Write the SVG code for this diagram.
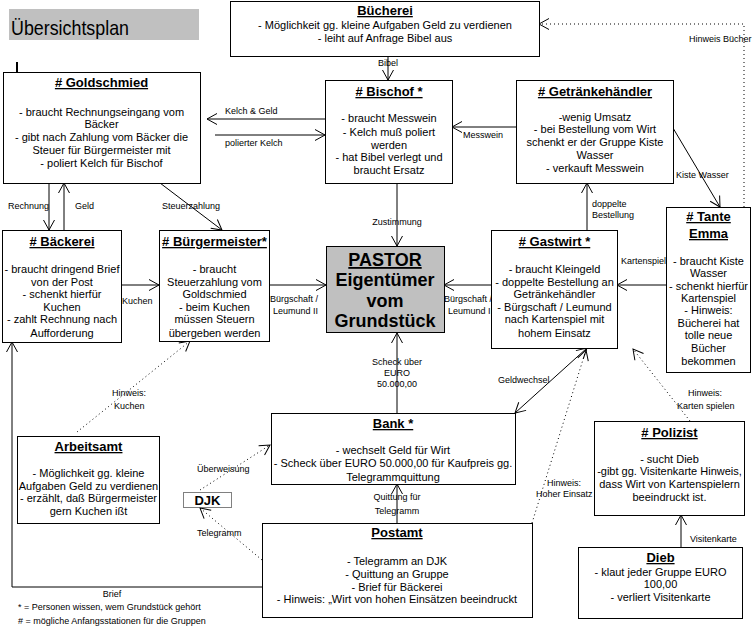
<svg xmlns="http://www.w3.org/2000/svg" width="754" height="628" viewBox="0 0 754 628">
<style>
text{font-family:"Liberation Sans",Arial,sans-serif;fill:#000}
.b{font-size:11px;text-anchor:middle}
.t{font-size:13px;font-weight:bold;text-anchor:middle;text-decoration:underline}
.l{font-size:9px}
.lc{font-size:9px;text-anchor:middle}
.box{fill:#fff;stroke:#000;stroke-width:1}
.c{fill:none;stroke:#000;stroke-width:1}
.d{fill:none;stroke:#000;stroke-width:1;stroke-dasharray:1 3}
</style>
<defs>
<marker id="a" viewBox="-12 -7 14 14" refX="0" refY="0" markerWidth="14" markerHeight="14" markerUnits="userSpaceOnUse" orient="auto-start-reverse">
<path d="M-10,-5.5 L0,0 L-10,5.5" fill="none" stroke="#000" stroke-width="1"/>
</marker>
</defs>
<rect width="754" height="628" fill="#fff"/>

<g id="title">
<rect x="9" y="9" width="190" height="31" fill="#c0c0c0"/>
<text x="11" y="35" font-family="'DejaVu Sans Condensed','DejaVu Sans',sans-serif" font-size="21" textLength="118" lengthAdjust="spacingAndGlyphs">Übersichtsplan</text>
</g>
<line x1="17" y1="62" x2="17" y2="77" stroke="#000" stroke-width="2"/>

<g id="connectors">
<line class="c" x1="388" y1="56" x2="388" y2="80" marker-end="url(#a)"/>
<line class="c" x1="325" y1="119" x2="207" y2="119" marker-end="url(#a)"/>
<line class="c" x1="215" y1="135" x2="325" y2="135" marker-end="url(#a)"/>
<line class="c" x1="516" y1="127" x2="452" y2="127" marker-end="url(#a)"/>
<polyline class="d" points="744,207 744,24 539,24" marker-end="url(#a)"/>
<line class="c" x1="673" y1="128" x2="720" y2="207" marker-end="url(#a)"/>
<line class="c" x1="587" y1="230" x2="587" y2="183" marker-end="url(#a)"/>
<line class="c" x1="49" y1="183" x2="49" y2="230" marker-end="url(#a)"/>
<line class="c" x1="64" y1="230" x2="64" y2="183" marker-end="url(#a)"/>
<line class="c" x1="160" y1="183" x2="222" y2="230" marker-end="url(#a)"/>
<line class="c" x1="121" y1="285" x2="159" y2="285" marker-end="url(#a)"/>
<line class="c" x1="269" y1="285" x2="326" y2="285" marker-end="url(#a)"/>
<line class="c" x1="491" y1="285" x2="444" y2="285" marker-end="url(#a)"/>
<line class="c" x1="666" y1="285" x2="617" y2="285" marker-end="url(#a)"/>
<line class="c" x1="397" y1="183" x2="397" y2="246" marker-end="url(#a)"/>
<line class="c" x1="397" y1="413" x2="397" y2="333" marker-end="url(#a)"/>
<line class="c" x1="515" y1="413" x2="587" y2="348" marker-start="url(#a)" marker-end="url(#a)"/>
<line class="d" x1="532" y1="523" x2="586" y2="350" marker-end="url(#a)"/>
<line class="d" x1="690" y1="421" x2="633" y2="349" marker-end="url(#a)"/>
<line class="c" x1="681" y1="547" x2="681" y2="515" marker-end="url(#a)"/>
<line class="d" x1="77" y1="432" x2="190" y2="341" marker-end="url(#a)"/>
<line class="d" x1="200" y1="490" x2="270" y2="445" marker-end="url(#a)"/>
<line class="d" x1="262" y1="560" x2="200" y2="508" marker-end="url(#a)"/>
<line class="c" x1="397" y1="523" x2="397" y2="484" marker-end="url(#a)"/>
<polyline class="c" points="262,587 12,587 12,342" marker-end="url(#a)"/>

<text class="lc" x="388" y="66">Bibel</text>
<text class="l" x="225" y="114">Kelch &amp; Geld</text>
<text class="l" x="225" y="146">polierter Kelch</text>
<text class="l" x="463" y="138">Messwein</text>
<text class="l" x="689" y="42">Hinweis Bücher</text>
<text class="l" x="676" y="178">Kiste Wasser</text>
<text class="l" x="592" y="207">doppelte</text>
<text class="l" x="592" y="218">Bestellung</text>
<text class="l" x="8" y="209">Rechnung</text>
<text class="l" x="75" y="209">Geld</text>
<text class="l" x="162" y="209">Steuerzahlung</text>
<text class="l" x="122" y="304">Kuchen</text>
<text class="l" x="270" y="302">Bürgschaft /</text>
<text class="l" x="273" y="314">Leumund II</text>
<text class="l" x="444" y="302">Bürgschaft /</text>
<text class="l" x="448" y="314">Leumund I</text>
<text class="lc" x="397" y="225">Zustimmung</text>
<text class="l" x="621" y="264">Kartenspiel</text>
<text class="lc" x="397" y="365">Scheck über</text>
<text class="lc" x="397" y="376">EURO</text>
<text class="lc" x="397" y="387">50.000,00</text>
<text class="l" x="498" y="383">Geldwechsel</text>
<text class="l" x="547" y="486">Hinweis:</text>
<text class="l" x="536" y="497">Hoher Einsatz</text>
<text class="l" x="688" y="396">Hinweis:</text>
<text class="l" x="677" y="409">Karten spielen</text>
<text class="l" x="690" y="542">Visitenkarte</text>
<text class="l" x="112" y="396">Hinweis:</text>
<text class="l" x="114" y="409">Kuchen</text>
<text class="l" x="197" y="472">Überweisung</text>
<text class="l" x="197" y="536">Telegramm</text>
<text class="lc" x="397" y="500">Quittung für</text>
<text class="lc" x="397" y="514">Telegramm</text>
<text class="lc" x="112" y="597">Brief</text>
</g>

<g id="buecherei">
<rect class="box" x="230.5" y="1.5" width="309" height="55"/>
<text class="t" x="385" y="15">Bücherei</text>
<text class="b" x="385" y="28.5">- Möglichkeit gg. kleine Aufgaben Geld zu verdienen</text>
<text class="b" x="385" y="42">- leiht auf Anfrage Bibel aus</text>
</g>

<g id="goldschmied">
<rect class="box" x="3.5" y="72.5" width="197" height="111"/>
<text class="t" x="101.5" y="87"># Goldschmied</text>
<text class="b" x="101.5" y="116">- braucht Rechnungseingang vom</text>
<text class="b" x="101.5" y="128">Bäcker</text>
<text class="b" x="101.5" y="141">- gibt nach Zahlung vom Bäcker die</text>
<text class="b" x="101.5" y="154">Steuer für Bürgermeister mit</text>
<text class="b" x="101.5" y="167">- poliert Kelch für Bischof</text>
</g>

<g id="bischof">
<rect class="box" x="325.5" y="80.5" width="127" height="103"/>
<text class="t" x="389" y="96"># Bischof *</text>
<text class="b" x="389" y="122">- braucht Messwein</text>
<text class="b" x="389" y="136">- Kelch muß poliert</text>
<text class="b" x="389" y="149">werden</text>
<text class="b" x="389" y="161">- hat Bibel verlegt und</text>
<text class="b" x="389" y="174">braucht Ersatz</text>
</g>

<g id="getraenkehaendler">
<rect class="box" x="516.5" y="80.5" width="157" height="103"/>
<text class="t" x="595" y="96"># Getränkehändler</text>
<text class="b" x="595" y="121">-wenig Umsatz</text>
<text class="b" x="595" y="133">- bei Bestellung vom Wirt</text>
<text class="b" x="595" y="146">schenkt er der Gruppe Kiste</text>
<text class="b" x="595" y="159">Wasser</text>
<text class="b" x="595" y="172">- verkauft Messwein</text>
</g>

<g id="baeckerei">
<rect class="box" x="2.5" y="230.5" width="119" height="112"/>
<text class="t" x="62" y="246"># Bäckerei</text>
<text class="b" x="62" y="273">- braucht dringend Brief</text>
<text class="b" x="62" y="286">von der Post</text>
<text class="b" x="62" y="298">- schenkt hierfür</text>
<text class="b" x="62" y="311">Kuchen</text>
<text class="b" x="62" y="323">- zahlt Rechnung nach</text>
<text class="b" x="62" y="337">Aufforderung</text>
</g>

<g id="buergermeister">
<rect class="box" x="159.5" y="230.5" width="110" height="111"/>
<text class="t" x="214.5" y="246"># Bürgermeister*</text>
<text class="b" x="214.5" y="273">- braucht</text>
<text class="b" x="214.5" y="286">Steuerzahlung vom</text>
<text class="b" x="214.5" y="298">Goldschmied</text>
<text class="b" x="214.5" y="311">- beim Kuchen</text>
<text class="b" x="214.5" y="323">müssen Steuern</text>
<text class="b" x="214.5" y="337">übergeben werden</text>
</g>

<g id="pastor">
<rect x="326.5" y="246.5" width="118" height="86" fill="#c0c0c0" stroke="#000"/>
<g font-size="18" font-weight="bold" text-anchor="middle">
<text x="385" y="266" text-decoration="underline">PASTOR</text>
<text x="385" y="286">Eigentümer</text>
<text x="385" y="307">vom</text>
<text x="385" y="327">Grundstück</text>
</g>
</g>

<g id="gastwirt">
<rect class="box" x="491.5" y="230.5" width="126" height="118"/>
<text class="t" x="554.5" y="246"># Gastwirt *</text>
<text class="b" x="554.5" y="273">- braucht Kleingeld</text>
<text class="b" x="554.5" y="286">- doppelte Bestellung an</text>
<text class="b" x="554.5" y="298">Getränkehändler</text>
<text class="b" x="554.5" y="311">- Bürgschaft / Leumund</text>
<text class="b" x="554.5" y="323">nach Kartenspiel mit</text>
<text class="b" x="554.5" y="337">hohem Einsatz</text>
</g>

<g id="tante-emma">
<rect class="box" x="666.5" y="207.5" width="84" height="165"/>
<text class="t" x="708.5" y="221"># Tante</text>
<text class="t" x="708.5" y="238">Emma</text>
<text class="b" x="708.5" y="265">- braucht Kiste</text>
<text class="b" x="708.5" y="277">Wasser</text>
<text class="b" x="708.5" y="290">- schenkt hierfür</text>
<text class="b" x="708.5" y="302">Kartenspiel</text>
<text class="b" x="708.5" y="314">- Hinweis:</text>
<text class="b" x="708.5" y="327">Bücherei hat</text>
<text class="b" x="708.5" y="339">tolle neue</text>
<text class="b" x="708.5" y="352">Bücher</text>
<text class="b" x="708.5" y="365">bekommen</text>
</g>

<g id="bank">
<rect class="box" x="271.5" y="413.5" width="244" height="71"/>
<text class="t" x="393" y="428">Bank *</text>
<text class="b" x="393" y="454">- wechselt Geld für Wirt</text>
<text class="b" x="393" y="467">- Scheck über EURO 50.000,00 für Kaufpreis gg.</text>
<text class="b" x="393" y="481">Telegrammquittung</text>
</g>

<g id="arbeitsamt">
<rect class="box" x="17.5" y="436.5" width="142" height="87"/>
<text class="t" x="88.5" y="451">Arbeitsamt</text>
<text class="b" x="88.5" y="477">- Möglichkeit gg. kleine</text>
<text class="b" x="88.5" y="490">Aufgaben Geld zu verdienen</text>
<text class="b" x="88.5" y="502">- erzählt, daß Bürgermeister</text>
<text class="b" x="88.5" y="515">gern Kuchen ißt</text>
</g>

<g id="djk">
<rect x="183.5" y="492.5" width="48" height="15" fill="#fff" stroke="#000" stroke-dasharray="1 1"/>
<text x="207.5" y="505" font-size="13" font-weight="bold" text-anchor="middle">DJK</text>
</g>

<g id="postamt">
<rect class="box" x="262.5" y="523.5" width="270" height="94"/>
<text class="t" x="397" y="537">Postamt</text>
<text class="b" x="397" y="565">- Telegramm an DJK</text>
<text class="b" x="397" y="578">- Quittung an Gruppe</text>
<text class="b" x="397" y="591">- Brief für Bäckerei</text>
<text class="b" x="397" y="603">- Hinweis: „Wirt von hohen Einsätzen beeindruckt</text>
</g>

<g id="polizist">
<rect class="box" x="594.5" y="421.5" width="150" height="94"/>
<text class="t" x="669.5" y="437"># Polizist</text>
<text class="b" x="669.5" y="463">- sucht Dieb</text>
<text class="b" x="669.5" y="475">-gibt gg. Visitenkarte Hinweis,</text>
<text class="b" x="669.5" y="488">dass Wirt von Kartenspielern</text>
<text class="b" x="669.5" y="501">beeindruckt ist.</text>
</g>

<g id="dieb">
<rect class="box" x="578.5" y="547.5" width="164" height="71"/>
<text class="t" x="660.5" y="562">Dieb</text>
<text class="b" x="660.5" y="576">- klaut jeder Gruppe EURO</text>
<text class="b" x="660.5" y="588">100,00</text>
<text class="b" x="660.5" y="601">- verliert Visitenkarte</text>
</g>

<g id="legend">
<text class="l" x="18" y="610">* = Personen wissen, wem Grundstück gehört</text>
<text class="l" x="18" y="624"># = mögliche Anfangsstationen für die Gruppen</text>
</g>
</svg>
